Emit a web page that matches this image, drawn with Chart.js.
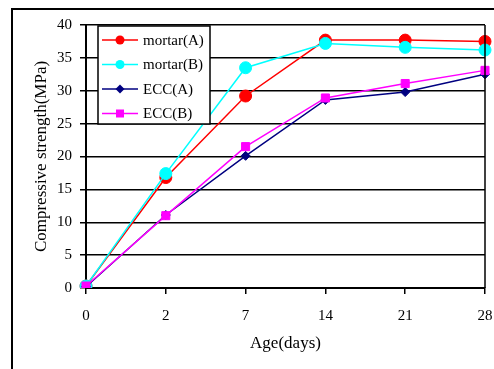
<!DOCTYPE html>
<html>
<head>
<meta charset="utf-8">
<script src="https://cdn.jsdelivr.net/npm/chart.js@4.4.0/dist/chart.umd.min.js"></script>
<style>
  html, body { margin: 0; padding: 0; background: #fff; }
  canvas { display: block; }
</style>
</head>
<body>
<canvas id="strength" width="494" height="369"></canvas>
<script>
const ages = ['0', '2', '7', '14', '21', '28'];
const yTicks = [0, 5, 10, 15, 20, 25, 30, 35, 40];

const mortarA = [0.3, 16.8, 29.2, 37.7, 37.7, 37.5];
const mortarB = [0.3, 17.4, 33.5, 37.2, 36.6, 36.2];
const eccA = [0.2, 11.1, 20.1, 28.6, 29.8, 32.5];
const eccB = [0.3, 11.0, 21.5, 28.9, 31.1, 33.1];

const serif = 'Liberation Serif';

// frame round the whole figure, right border of plot, and the boxed legend
const extras = {
  id: 'extras',
  afterDraw(chart) {
    const c = chart.ctx;
    const a = chart.chartArea;
    c.save();
    c.strokeStyle = '#000';
    c.lineWidth = 2;
    c.strokeRect(12, 9, 600, 600);

    c.lineWidth = 1.5;
    c.beginPath();
    c.moveTo(a.right, a.top);
    c.lineTo(a.right, a.bottom);
    c.stroke();

    // legend
    const lx = 98, ly = 26, lw = 112, lh = 98;
    c.fillStyle = '#fff';
    c.fillRect(lx, ly, lw, lh);
    c.lineWidth = 1.5;
    c.strokeRect(lx, ly, lw, lh);
    c.font = '15px "' + serif + '"';
    c.textBaseline = 'middle';
    chart.data.datasets.forEach((ds, i) => {
      const y = 40 + i * 24.5;
      c.strokeStyle = ds.borderColor;
      c.fillStyle = ds.borderColor;
      c.lineWidth = 1.5;
      c.beginPath();
      c.moveTo(102, y);
      c.lineTo(138, y);
      c.stroke();
      c.beginPath();
      if (ds.pointStyle === 'circle') {
        c.arc(120, y, 4.5, 0, Math.PI * 2);
      } else if (ds.pointStyle === 'rectRot') {
        c.moveTo(120, y - 4.5); c.lineTo(124.5, y); c.lineTo(120, y + 4.5); c.lineTo(115.5, y);
        c.closePath();
      } else {
        c.rect(116, y - 4, 8, 8);
      }
      c.fill();
      c.fillStyle = '#000';
      c.fillText(ds.label, 143, y + 1);
    });
    c.restore();
  }
};

new Chart(document.getElementById('strength'), {
  type: 'line',
  data: {
    labels: ages,
    datasets: [{
      label: 'mortar(A)',
      data: mortarA,
      borderColor: '#ff0000',
      backgroundColor: '#ff0000',
      pointStyle: 'circle',
      pointRadius: 6,
      order: 4
    }, {
      label: 'mortar(B)',
      data: mortarB,
      borderColor: '#00ffff',
      backgroundColor: '#00ffff',
      pointStyle: 'circle',
      pointRadius: 6,
      order: 3
    }, {
      label: 'ECC(A)',
      data: eccA,
      borderColor: '#000080',
      backgroundColor: '#000080',
      pointStyle: 'rectRot',
      pointRadius: 4.5,
      order: 2
    }, {
      label: 'ECC(B)',
      data: eccB,
      borderColor: '#ff00ff',
      backgroundColor: '#ff00ff',
      pointStyle: 'rect',
      pointRadius: 5.7,
      order: 1
    }]
  },
  options: {
    responsive: false,
    animation: false,
    elements: {
      line: { borderWidth: 1.5, tension: 0 },
      point: { borderWidth: 1 }
    },
    layout: { padding: { left: 0, top: 25, right: 9, bottom: 0 } },
    plugins: {
      legend: { display: false },
      tooltip: { enabled: false }
    },
    scales: {
      x: {
        type: 'category',
        offset: false,
        afterFit: s => { s.height = 81; s.paddingLeft = 0; s.paddingRight = 0; },
        grid: { drawOnChartArea: false, drawTicks: true, tickLength: 6, color: '#000', lineWidth: 1.5 },
        border: { color: '#000', width: 2 },
        ticks: { color: '#000', font: { family: serif, size: 15 }, padding: 13, maxRotation: 0 },
        title: { display: true, text: 'Age(days)', color: '#000', font: { family: serif, size: 17 }, padding: { bottom: 15 } }
      },
      y: {
        min: 0,
        max: 40,
        afterFit: s => { s.width = 86; },
        afterBuildTicks: s => { s.ticks = yTicks.map(v => ({ value: v })); },
        grid: { color: '#000', lineWidth: 1.5, tickLength: 6 },
        border: { color: '#000', width: 2 },
        ticks: { color: '#000', font: { family: serif, size: 15 }, padding: 8 },
        title: { display: true, text: 'Compressive strength(MPa)', color: '#000', font: { family: serif, size: 17 }, padding: { top: 31 } }
      }
    }
  },
  plugins: [extras]
});
</script>
</body>
</html>
